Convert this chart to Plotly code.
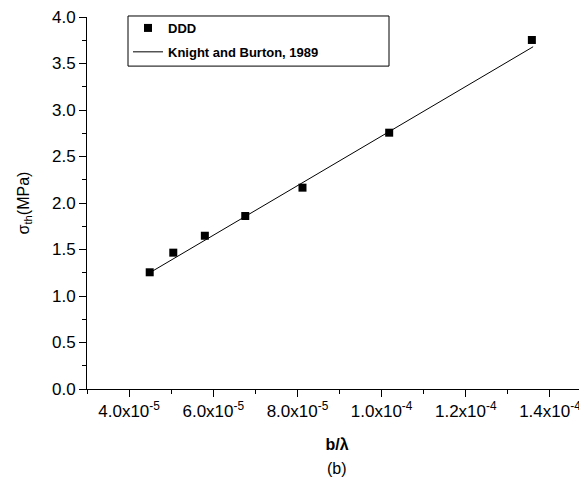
import plotly.graph_objects as go

# DDD simulation points (b/lambda, threshold stress in MPa)
ddd_x = [4.49e-5, 5.05e-5, 5.80e-5, 6.76e-5, 8.12e-5, 1.018e-4, 1.357e-4]
ddd_y = [1.255, 1.466, 1.648, 1.860, 2.165, 2.756, 3.753]

# Knight and Burton (1989) line, read at its two ends
kb_x = [4.49e-5, 1.36e-4]
kb_y = [1.25, 3.68]

x_tickvals = [4e-5, 6e-5, 8e-5, 1.0e-4, 1.2e-4, 1.4e-4]
x_ticktext = ["4.0x10<sup>-5</sup>", "6.0x10<sup>-5</sup>", "8.0x10<sup>-5</sup>",
              "1.0x10<sup>-4</sup>", "1.2x10<sup>-4</sup>", "1.4x10<sup>-4</sup>"]

font = "Liberation Sans, Arial, sans-serif"

fig = go.Figure()

fig.add_trace(go.Scatter(
    x=ddd_x, y=ddd_y,
    mode="markers",
    name="<b>DDD</b>",
    legendgroup="a",
    marker=dict(symbol="square", size=8, color="black"),
))

fig.add_trace(go.Scatter(
    x=kb_x, y=kb_y,
    mode="lines",
    name="<b>Knight and Burton, 1989</b>",
    legendgroup="b",
    line=dict(color="black", width=1),
))

# the page body has an 8px margin, so the figure is a bit smaller than the window
fig.update_layout(
    width=579, height=481,
    margin=dict(l=79, r=0, t=9, b=100),
    paper_bgcolor="white", plot_bgcolor="white",
    font=dict(family=font, size=16, color="black"),
    legend=dict(
        x=0.082, y=1.0108, xanchor="left", yanchor="top",
        borderwidth=0, bgcolor="rgba(0,0,0,0)",
        font=dict(size=13, color="black"),
        tracegroupgap=4,
    ),
    showlegend=True,
)

# legend frame, wider than the entries like in the original
fig.add_shape(
    type="rect", xref="paper", yref="paper",
    x0=0.082, x1=0.604, y0=0.868, y1=1.0027,
    line=dict(color="black", width=1),
)

fig.update_xaxes(
    range=[3e-5, 1.488e-4],
    tickvals=x_tickvals, ticktext=x_ticktext,
    showline=True, linecolor="black", linewidth=1,
    ticks="outside", ticklen=7, tickcolor="black",
    minor=dict(dtick=1e-5, tick0=0, ticks="outside", ticklen=4, tickcolor="black"),
    showgrid=False, zeroline=False, automargin=False,
    ticklabeloverflow="allow",
    tickfont=dict(size=17),
    title=dict(text="<b>b/λ</b>", font=dict(size=16), standoff=18),
)

fig.update_yaxes(
    range=[0, 4.0],
    dtick=0.5, tickformat=".1f",
    showline=True, linecolor="black", linewidth=1,
    ticks="outside", ticklen=7, tickcolor="black",
    minor=dict(dtick=0.25, ticks="outside", ticklen=4, tickcolor="black"),
    showgrid=False, zeroline=False, automargin=False,
    ticklabeloverflow="allow",
    tickfont=dict(size=17),
    title=dict(text="σ<sub>th</sub>(MPa)", font=dict(size=16), standoff=18),
)

fig.add_annotation(
    text="(b)", xref="paper", yref="paper",
    x=0.5, y=-0.215, xanchor="center", yanchor="middle",
    showarrow=False, font=dict(size=16),
)

fig.write_html("out.html")
